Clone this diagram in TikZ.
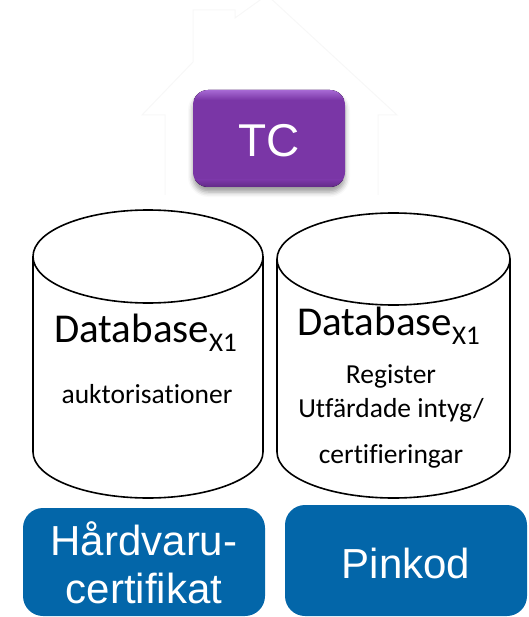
\documentclass[tikz,border=0pt]{standalone}
\usepackage{fontspec}
\setmainfont{Carlito}[Ligatures={NoCommon,NoRare,NoDiscretionary}, RawFeature={-liga;-clig}]
\newfontfamily\arialf{Liberation Sans}
\usetikzlibrary{shadows.blur}
\definecolor{tcpurple}{HTML}{7A36A6}
\definecolor{tclight}{HTML}{B074DD}
\definecolor{tcdark}{HTML}{5E2882}
\definecolor{boxblue}{HTML}{0366A9}
\definecolor{housegray}{HTML}{F7F7F7}
\newcommand{\xsub}{\raisebox{-9pt}{\fontsize{27}{30}\selectfont X1}}
\tikzset{
  dbbody/.style={draw=black, line width=1.6pt, fill=white},
  bluebox/.style={fill=boxblue, rounded corners=20pt},
  boxtext/.style={text=white, font=\arialf\fontsize{42}{46}\selectfont, anchor=base, inner sep=0pt},
  dbtitle/.style={font=\fontsize{41}{44}\selectfont, anchor=base west, inner sep=0pt},
  dbtext/.style={font=\fontsize{27.5}{30}\selectfont, anchor=base, inner sep=0pt},
  houseline/.style={draw=housegray, line width=1pt}
}
\begin{document}
\begin{tikzpicture}[x=1pt,y=-1pt]
\useasboundingbox (0,0) rectangle (528,617);
% faint house outline
\draw[houseline] (165,195) -- (165,115) -- (142,115) -- (193,62) -- (193,10) -- (235,10) -- (235,18) -- (267,-5);
\draw[houseline] (267,-5) -- (397,115) -- (378,115) -- (378,195);
% TC box
\begin{scope}
  \path[fill=tcpurple, rounded corners=15pt, blur shadow={shadow xshift=0pt, shadow yshift=-5pt, shadow blur radius=5pt, shadow opacity=40}] (193,90) rectangle (345,187);
  \clip[rounded corners=15pt] (193,90) rectangle (345,187);
  \fill[top color=tclight, bottom color=tcpurple] (193,88) rectangle (345,100);
  \fill[top color=tcpurple, bottom color=tcdark] (193,180) rectangle (345,188);
\end{scope}
\node[text=white, font=\arialf\fontsize{46}{50}\selectfont, anchor=base, inner sep=0pt] (tc) at (269,157) {TC};
% left cylinder
\path[dbbody] (33,256.5) -- (33,452) arc[start angle=180, end angle=0, x radius=115, y radius=46] -- (263,256.5);
\path[dbbody] (148,256.5) ellipse[x radius=115, y radius=46.5];
\node[dbtitle] (db1) at (54,342) {Database\xsub};
\node[dbtext] (auk) at (147,403) {auktorisationer};
% right cylinder
\path[dbbody] (277,259) -- (277,452) arc[start angle=180, end angle=0, x radius=116.5, y radius=46] -- (510,259);
\path[dbbody] (393.5,259) ellipse[x radius=116.5, y radius=46];
\node[dbtitle] (db2) at (297,335) {Database\xsub};
\node[dbtext] (reg) at (391,383) {Register};
\node[dbtext] (utf) at (391,417) {Utfärdade intyg/};
\node[dbtext] (cer) at (391,463) {certifieringar};
% blue boxes
\path[bluebox] (23,508) rectangle (265,616);
\path[bluebox] (285,505) rectangle (527,616);
\node[boxtext] (hw1) at (144,555) {Hårdvaru-};
\node[boxtext] (hw2) at (144,603) {certifikat};
\node[boxtext] (pin) at (406,578) {Pinkod};
\end{tikzpicture}
\end{document}
